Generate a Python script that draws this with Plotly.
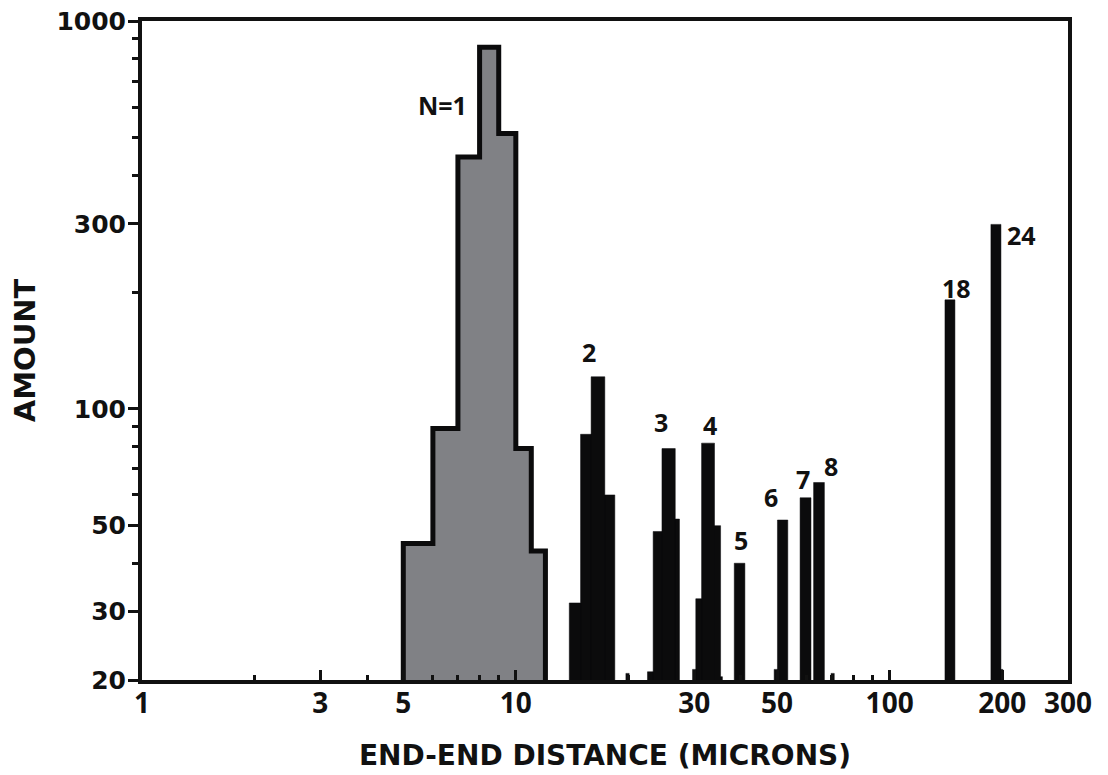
import numpy as np
import plotly.graph_objects as go

# ---- data ----
# Single-chain histogram (N=1): bin edges (microns) and counts
n1_edges = [5, 6, 7, 8, 9, 10, 11, 12]
n1_counts = [45, 89, 446, 856, 513, 79, 43]

# Multi-unit histogram bars: left edge, right edge (microns), count
black_lo = [13.9, 14.9, 15.9, 17.3, 19.7, 22.5, 23.3, 24.6, 26.7, 29.7, 30.3, 31.4, 34.0, 35.3,
            38.4, 49.1, 50.1, 57.6, 62.6, 69.7, 140.6, 186.6, 198.5]
black_hi = [14.9, 15.9, 17.3, 18.4, 20.1, 23.3, 24.6, 26.7, 27.4, 30.3, 31.4, 34.0, 35.3, 35.7,
            41.0, 50.1, 53.4, 61.6, 66.9, 71.1, 149.5, 198.5, 200.9]
black_n = [31.6, 86, 121, 60, 20.8, 21, 48.3, 79, 52, 21.3, 32.4, 81.6, 50, 20.4,
           40, 21.3, 51.7, 59, 64.6, 20.8, 191, 299, 21.3]

# Peak labels
label_text = ["N=1", "2", "3", "4", "5", "6", "7", "8", "18", "24"]
label_x = [6.35, 15.7, 24.5, 33.1, 40.0, 48.2, 58.6, 69.7, 151, 224.6]
label_y = [609, 140, 92.6, 91, 46, 59.3, 66, 71.3, 205, 280]

x_ticks = [1, 3, 5, 10, 30, 50, 100, 200, 300]
x_minor = [2, 4, 6, 7, 8, 9, 20, 40, 60, 70, 80, 90]
y_ticks = [20, 30, 50, 100, 300, 1000]
y_minor = [40, 60, 70, 80, 90, 200, 400, 500, 600, 700, 800, 900]

Y_MIN, Y_MAX = 20, 1000
X_MIN, X_MAX = 1, 300

# ---- build shapes ----
gx, gy = [n1_edges[0]], [Y_MIN]
for i, c in enumerate(n1_counts):
    gx += [n1_edges[i], n1_edges[i + 1]]
    gy += [c, c]
gx += [n1_edges[-1]]
gy += [Y_MIN]

bx, by = [], []
for lo, hi, n in zip(black_lo, black_hi, black_n):
    bx += [lo, lo, hi, hi, None]
    by += [Y_MIN, n, n, Y_MIN, None]

fig = go.Figure()
fig.add_trace(go.Scatter(x=bx, y=by, mode="lines", fill="toself",
                         fillcolor="#0b0b0c", line=dict(color="#0b0b0c", width=0.5),
                         hoverinfo="skip", showlegend=False))
fig.add_trace(go.Scatter(x=gx, y=gy, mode="lines", fill="toself",
                         fillcolor="#808185", line=dict(color="#0b0b0c", width=5),
                         hoverinfo="skip", showlegend=False))

for t, x, y in zip(label_text, label_x, label_y):
    fig.add_annotation(x=np.log10(x), y=np.log10(y), text=t, showarrow=False,
                       font=dict(family="Open Sans", size=25, color="#111", weight="bold"))

xtickfont = dict(family="Open Sans", size=28, color="#111", weight="bold")
ytickfont = dict(family="DejaVu Sans", size=25, color="#111", weight="bold")
titlefont = dict(family="DejaVu Sans", size=28, color="#111", weight="bold")

fig.update_xaxes(type="log", range=[np.log10(X_MIN), np.log10(X_MAX)], automargin=False,
                 tickmode="array", tickvals=x_ticks, ticktext=[str(v) for v in x_ticks],
                 ticks="inside", ticklen=10, tickwidth=3, tickcolor="#111",
                 ticklabelstandoff=-5, ticklabeloverflow="allow",
                 minor=dict(tickmode="array", tickvals=x_minor, ticks="inside",
                            ticklen=5, tickwidth=3, tickcolor="#111", showgrid=False),
                 showline=True, linewidth=4, linecolor="#111", mirror=True,
                 showgrid=False, zeroline=False, tickfont=xtickfont,
                 title=dict(text="END-END DISTANCE (MICRONS)", font=titlefont, standoff=27))
fig.update_yaxes(type="log", range=[np.log10(Y_MIN), np.log10(Y_MAX)], automargin=False,
                 tickmode="array", tickvals=y_ticks, ticktext=[str(v) for v in y_ticks],
                 ticks="outside", ticklen=10, tickwidth=3, tickcolor="#111",
                 ticklabelstandoff=-3, ticklabeloverflow="allow",
                 minor=dict(tickmode="array", tickvals=y_minor, ticks="outside",
                            ticklen=6, tickwidth=3, tickcolor="#111", showgrid=False),
                 showline=True, linewidth=4, linecolor="#111", mirror=True,
                 showgrid=False, zeroline=False, tickfont=ytickfont,
                 title=dict(text="AMOUNT", font=dict(family="DejaVu Sans", size=29,
                                                    color="#111", weight="bold"),
                            standoff=24))

fig.update_layout(width=1100, height=767, plot_bgcolor="white", paper_bgcolor="white",
                  margin=dict(l=134, r=40, t=13, b=95), showlegend=False)

fig.write_html("out.html")
